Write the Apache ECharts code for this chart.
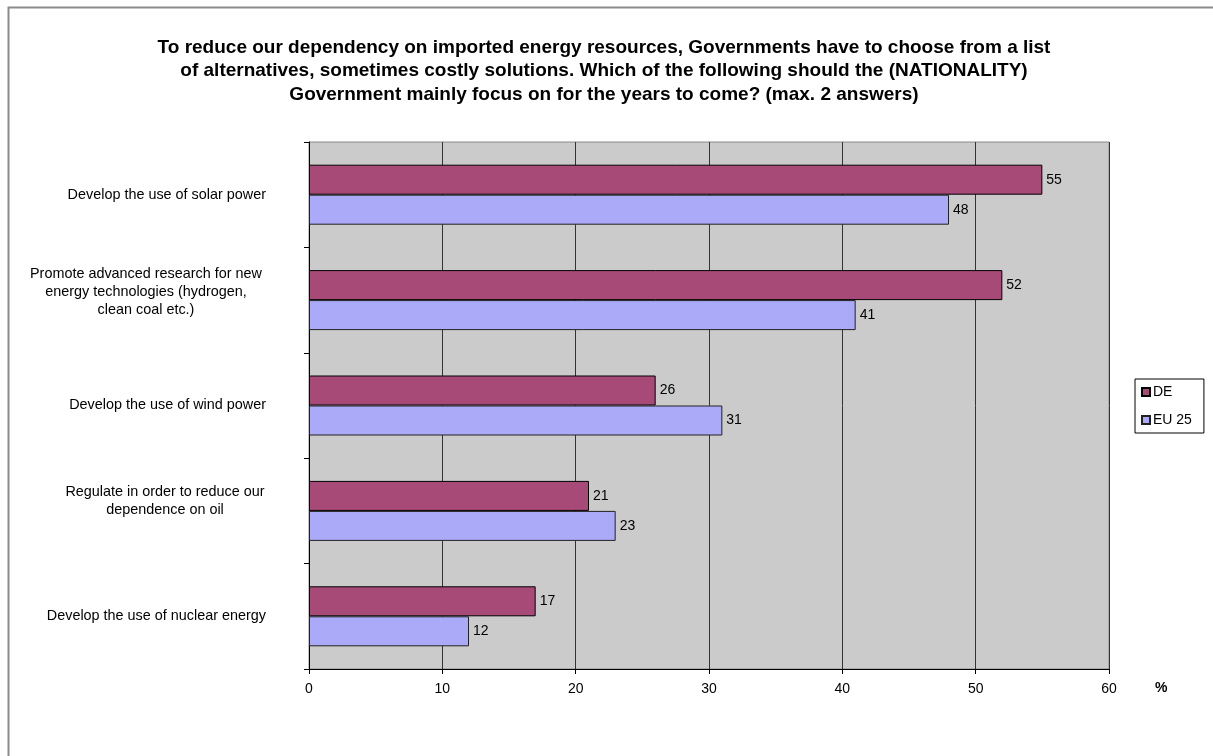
<!DOCTYPE html>
<html>
<head>
<meta charset="utf-8">
<script src="https://cdn.jsdelivr.net/npm/echarts@6/dist/echarts.min.js"></script>
<style>html,body{margin:0;padding:0;background:#fff;}#c{width:1213px;height:756px;}</style>
</head>
<body>
<div id="c"></div>
<script>
var titleText = "To reduce our dependency on imported energy resources, Governments have to choose from a list\nof alternatives, sometimes costly solutions. Which of the following should the (NATIONALITY)\nGovernment mainly focus on for the years to come? (max. 2 answers)";
var categories = [
  "Develop the use of solar power",
  "Promote advanced research for new\nenergy technologies (hydrogen,\nclean coal etc.)",
  "Develop the use of wind power",
  "Regulate in order to reduce our\ndependence on oil",
  "Develop the use of nuclear energy"
];
var seriesNames = ["DE", "EU 25"];
var deValues = [55, 52, 26, 21, 17];
var eu25Values = [48, 41, 31, 23, 12];
var FONT = "Arial, 'Liberation Sans', sans-serif";

function formatCategory(v) {
  var lines = v.split('\n');
  if (lines.length === 1) return v;
  var key = lines.length === 3 ? 'a' : 'b';
  return lines.map(function (l) {
    return '{' + key + '|' + l + '}';
  }).join('\n') + '\n{' + key + 'E| }';
}

var rich = {
  a: {width: 240, align: 'center', fontSize: 14.4, lineHeight: 18, fontFamily: FONT, color: '#000'},
  aE: {width: 240, fontSize: 10, lineHeight: 16, fontFamily: FONT, color: '#000'},
  b: {width: 202, align: 'center', fontSize: 14.4, lineHeight: 18, fontFamily: FONT, color: '#000'},
  bE: {width: 202, fontSize: 10, lineHeight: 20, fontFamily: FONT, color: '#000'}
};

var chart = echarts.init(document.getElementById('c'), null, {renderer: 'canvas'});
chart.setOption({
  animation: false,
  backgroundColor: '#ffffff',
  textStyle: {fontFamily: FONT},
  title: {
    text: titleText,
    left: 599, top: 31, textAlign: 'center',
    textStyle: {fontFamily: FONT, fontSize: 19, fontWeight: 'bold', color: '#000', lineHeight: 23.5}
  },
  legend: {
    orient: 'vertical',
    left: 1135, top: 379,
    itemWidth: 8, itemHeight: 8, itemGap: 14,
    icon: 'rect',
    padding: [6, 12, 6, 6],
    borderColor: '#000', borderWidth: 1,
    textStyle: {fontFamily: FONT, fontSize: 14, color: '#000', padding: [0, 0, 0, -2]},
    data: seriesNames
  },
  grid: {
    left: 309, right: 104, top: 142, bottom: 87,
    show: true, backgroundColor: '#cbcbcb', borderColor: '#8a8a8a', borderWidth: 1
  },
  xAxis: {
    type: 'value', min: 0, max: 60, interval: 10,
    axisLine: {show: true, lineStyle: {color: '#000', width: 1}},
    axisTick: {show: true, length: 5, lineStyle: {color: '#000'}},
    axisLabel: {fontFamily: FONT, fontSize: 14, color: '#000', margin: 13},
    splitLine: {show: true, lineStyle: {color: '#333', width: 1}}
  },
  yAxis: {
    type: 'category', inverse: true, data: categories,
    axisLine: {show: true, lineStyle: {color: '#000', width: 1}},
    axisTick: {show: true, length: 5, lineStyle: {color: '#000'}},
    axisLabel: {fontFamily: FONT, fontSize: 14.4, color: '#000', align: 'right', margin: 43, lineHeight: 18,
      formatter: formatCategory, rich: rich}
  },
  series: [
    {
      name: seriesNames[0], type: 'bar', data: deValues,
      barWidth: 30, barGap: '0%',
      itemStyle: {color: '#a84a78', borderColor: '#000', borderWidth: 1},
      label: {show: true, position: 'right', distance: 4, fontFamily: FONT, fontSize: 14, color: '#000'}
    },
    {
      name: seriesNames[1], type: 'bar', data: eu25Values,
      barWidth: 30, barGap: '0%',
      itemStyle: {color: '#aaaaf8', borderColor: '#222', borderWidth: 1},
      label: {show: true, position: 'right', distance: 4, fontFamily: FONT, fontSize: 14, color: '#000'}
    }
  ],
  graphic: [
    {type: 'rect', left: 6, top: 5, shape: {x: 0, y: 0, width: 1300, height: 900}, style: {fill: 'none', stroke: '#8a8a8a', lineWidth: 2}, silent: true, z: 100},
    {type: 'text', left: 1155, top: 681, style: {text: '%', font: "bold 14px Arial, 'Liberation Sans', sans-serif", fill: '#000'}}
  ]
});
</script>
</body>
</html>
